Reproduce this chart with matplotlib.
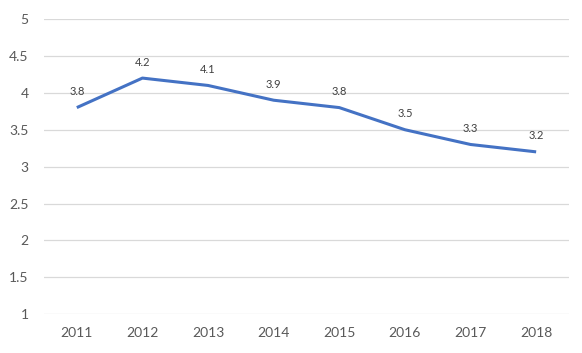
import matplotlib
matplotlib.use("Agg")
import matplotlib.pyplot as plt

years = ["2011", "2012", "2013", "2014", "2015", "2016", "2017", "2018"]
values = [3.8, 4.2, 4.1, 3.9, 3.8, 3.5, 3.3, 3.2]
yticks = [1, 1.5, 2, 2.5, 3, 3.5, 4, 4.5, 5]
ytick_labels = ["1", "1.5", "2", "2.5", "3", "3.5", "4", "4.5", "5"]

plt.rcParams['font.family'] = ['Lato', 'DejaVu Sans']

fig = plt.figure(figsize=(5.82, 3.53), dpi=100)
ax = fig.add_axes([0.0756, 0.110, 0.902, 0.836])

x = list(range(len(years)))
ax.plot(x, values, color="#4472C4", linewidth=2.2, solid_capstyle="butt", zorder=3)

for xi, v in zip(x, values):
    ax.annotate(f"{v}", (xi, v), xytext=(0, 7.5), textcoords="offset points",
                ha="center", va="bottom", fontsize=8, color="#404040")

ax.set_xlim(-0.5, len(years) - 0.5)
ax.set_ylim(1, 5)
ax.set_xticks(x)
ax.set_xticklabels(years)
ax.set_yticks(yticks)
ax.set_yticklabels(ytick_labels)
ax.tick_params(axis="both", length=0, labelsize=10, colors="#595959")
ax.tick_params(axis="x", pad=9)
ax.tick_params(axis="y", pad=11)
ax.grid(axis="y", color="#D9D9D9", linewidth=0.9)
ax.set_axisbelow(True)
for s in ax.spines.values():
    s.set_visible(False)

fig.savefig("out.png", dpi=100)
